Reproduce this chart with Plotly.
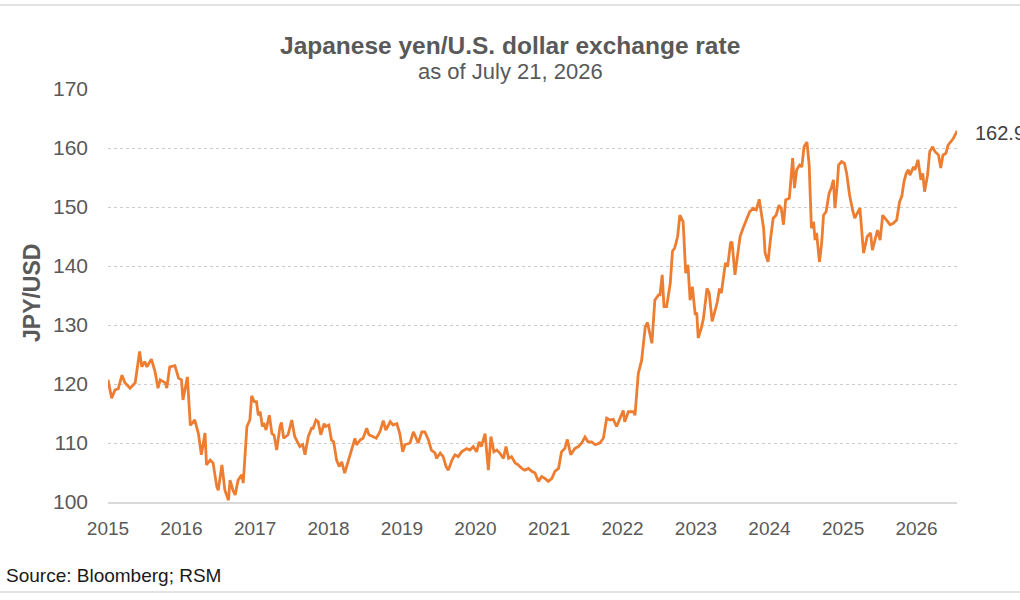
import pandas as pd
import plotly.graph_objects as go

years = [
    2015.00, 2015.05, 2015.095, 2015.14, 2015.19, 2015.23, 2015.30, 2015.37, 2015.43, 2015.46,
    2015.50, 2015.53, 2015.59, 2015.64, 2015.68, 2015.71, 2015.78, 2015.80, 2015.84, 2015.91,
    2015.96, 2016.00, 2016.02, 2016.08, 2016.12, 2016.18, 2016.23, 2016.27, 2016.32, 2016.34,
    2016.39, 2016.43, 2016.48, 2016.50, 2016.55, 2016.59, 2016.64, 2016.66, 2016.70, 2016.73,
    2016.77, 2016.82, 2016.84, 2016.89, 2016.93, 2016.955, 2016.99, 2017.02, 2017.045, 2017.07,
    2017.10, 2017.12, 2017.15, 2017.195, 2017.23, 2017.26, 2017.295, 2017.34, 2017.36, 2017.39,
    2017.45, 2017.50, 2017.54, 2017.61, 2017.65, 2017.68, 2017.725, 2017.77, 2017.79, 2017.83,
    2017.86, 2017.895, 2017.94, 2017.96, 2018.005, 2018.04, 2018.07, 2018.11, 2018.145, 2018.18,
    2018.22, 2018.27, 2018.315, 2018.36, 2018.38, 2018.43, 2018.47, 2018.52, 2018.55, 2018.61,
    2018.65, 2018.70, 2018.745, 2018.78, 2018.84, 2018.88, 2018.93, 2018.97, 2019.01, 2019.04,
    2019.11, 2019.155, 2019.20, 2019.22, 2019.27, 2019.31, 2019.36, 2019.40, 2019.45, 2019.47,
    2019.52, 2019.56, 2019.60, 2019.63, 2019.68, 2019.72, 2019.765, 2019.81, 2019.88, 2019.925,
    2019.97, 2020.015, 2020.05, 2020.08, 2020.13, 2020.175, 2020.21, 2020.25, 2020.29, 2020.33,
    2020.38, 2020.415, 2020.45, 2020.49, 2020.54, 2020.58, 2020.63, 2020.67, 2020.72, 2020.765,
    2020.81, 2020.855, 2020.90, 2020.945, 2020.99, 2021.04, 2021.08, 2021.13, 2021.17, 2021.215,
    2021.25, 2021.295, 2021.35, 2021.40, 2021.445, 2021.49, 2021.53, 2021.58, 2021.63, 2021.69,
    2021.74, 2021.785, 2021.83, 2021.875, 2021.92, 2021.97, 2022.01, 2022.03, 2022.08, 2022.15,
    2022.17, 2022.215, 2022.26, 2022.31, 2022.34, 2022.40, 2022.44, 2022.49, 2022.51, 2022.54,
    2022.565, 2022.60, 2022.65, 2022.68, 2022.71, 2022.75, 2022.78, 2022.825, 2022.86, 2022.89,
    2022.92, 2022.95, 2022.99, 2023.01, 2023.03, 2023.07, 2023.10, 2023.15, 2023.18, 2023.22,
    2023.26, 2023.29, 2023.32, 2023.345, 2023.40, 2023.43, 2023.47, 2023.49, 2023.53, 2023.56,
    2023.60, 2023.64, 2023.69, 2023.73, 2023.78, 2023.82, 2023.86, 2023.89, 2023.92, 2023.94,
    2023.98, 2024.015, 2024.05, 2024.09, 2024.13, 2024.16, 2024.19, 2024.22, 2024.27, 2024.315,
    2024.34, 2024.37, 2024.41, 2024.44, 2024.47, 2024.51, 2024.54, 2024.57, 2024.60, 2024.62,
    2024.64, 2024.68, 2024.71, 2024.735, 2024.77, 2024.81, 2024.84, 2024.87, 2024.89, 2024.92,
    2024.94, 2024.98, 2025.02, 2025.05, 2025.09, 2025.13, 2025.16, 2025.23, 2025.28, 2025.33,
    2025.375, 2025.40, 2025.44, 2025.47, 2025.505, 2025.54, 2025.59, 2025.64, 2025.68, 2025.73,
    2025.77, 2025.80, 2025.83, 2025.86, 2025.89, 2025.91, 2025.96, 2025.98, 2026.02, 2026.06,
    2026.085, 2026.11, 2026.15, 2026.18, 2026.22, 2026.25, 2026.30, 2026.33, 2026.36, 2026.40,
    2026.43, 2026.47, 2026.50, 2026.553,
]

jpy_usd = [
    120.7, 117.6, 119.0, 119.2, 121.5, 120.2, 119.3, 120.2, 125.5, 122.9,
    123.8, 122.9, 124.2, 122.1, 119.3, 120.7, 120.2, 119.3, 122.9, 123.1,
    121.0, 120.7, 117.3, 121.2, 113.0, 113.9, 111.6, 108.0, 111.7, 106.3,
    107.1, 106.6, 102.6, 102.0, 106.3, 102.0, 100.3, 103.7, 102.0, 101.2,
    103.7, 104.6, 103.2, 112.8, 113.9, 118.0, 117.0, 117.0, 114.7, 115.3,
    112.8, 113.4, 112.2, 114.7, 111.6, 111.3, 108.8, 112.8, 113.5, 110.8,
    111.4, 113.9, 111.1, 109.4, 109.7, 108.0, 111.1, 112.5, 112.5, 113.9,
    113.6, 111.4, 113.3, 112.8, 113.05, 110.5, 110.2, 107.1, 106.0, 106.8,
    104.9, 107.1, 108.8, 110.8, 109.7, 110.5, 110.8, 112.5, 111.4, 111.1,
    110.8, 111.9, 113.8, 112.2, 113.6, 113.05, 113.3, 111.6, 108.5, 109.7,
    110.0, 111.9, 110.5, 110.0, 111.9, 111.9, 110.5, 108.8, 108.3, 107.4,
    108.3, 107.7, 106.0, 105.4, 107.1, 108.0, 107.7, 108.5, 109.05, 108.8,
    109.4, 108.5, 110.2, 109.4, 111.6, 105.4, 111.1, 108.5, 108.8, 108.3,
    107.4, 109.4, 107.4, 107.7, 106.6, 106.3, 105.7, 105.4, 105.7, 105.2,
    104.9, 103.5, 104.3, 104.0, 103.5, 104.0, 105.2, 105.7, 108.5, 109.05,
    110.6, 108.0, 109.05, 109.4, 110.0, 111.0, 110.2, 110.2, 109.7, 110.0,
    110.8, 114.2, 113.9, 114.0, 112.8, 114.2, 115.5, 113.6, 115.3, 115.3,
    114.7, 121.8, 124.0, 129.7, 130.4, 126.9, 134.2, 135.1, 135.1, 138.5,
    133.1, 133.1, 137.1, 142.5, 143.05, 145.0, 148.6, 147.5, 138.8, 140.2,
    134.2, 136.5, 131.7, 132.1, 127.8, 129.4, 131.0, 136.2, 135.4, 130.6,
    132.5, 133.9, 136.2, 135.4, 140.5, 139.9, 143.9, 144.1, 138.5, 141.6,
    145.0, 146.4, 147.8, 149.2, 149.8, 149.5, 151.3, 148.9, 146.4, 142.2,
    140.7, 144.7, 148.1, 148.6, 150.3, 149.8, 147.0, 151.2, 151.5, 158.3,
    153.2, 156.3, 157.1, 156.8, 160.2, 161.0, 157.1, 146.4, 147.5, 144.4,
    145.6, 140.7, 143.9, 148.6, 149.2, 152.3, 153.2, 154.6, 149.8, 153.5,
    157.1, 157.7, 157.4, 155.7, 152.0, 149.5, 148.1, 149.8, 142.2, 145.0,
    145.6, 142.7, 144.7, 146.1, 144.4, 148.6, 147.8, 147.0, 147.2, 147.8,
    150.9, 151.8, 154.3, 155.7, 156.3, 155.4, 156.8, 156.3, 158.0, 154.6,
    155.7, 152.6, 155.4, 159.4, 160.2, 159.4, 158.8, 156.6, 158.8, 159.1,
    160.5, 161.1, 161.6, 162.9,
]

tick_years = [str(y) for y in range(2015, 2027)]
y_ticks = [100, 110, 120, 130, 140, 150, 160, 170]

title_text = "Japanese yen/U.S. dollar exchange rate"
subtitle_text = "as of July 21, 2026"
y_title = "JPY/USD"
source_text = "Source: Bloomberg; RSM"
last_label = "162.9"

base = pd.Timestamp("2015-01-01")
dates = [base + pd.to_timedelta((y - 2015) * 365.25, unit="D") for y in years]

W, H = 1020, 600
L, R, T, B = 108, 63, 89, 98
pw, ph = W - L - R, H - T - B

def px(x):
    return (x - L) / pw

def py(y):
    return (H - B - y) / ph

GRAY = "#595959"
FONT = "Liberation Sans, Arial, sans-serif"

fig = go.Figure()
fig.add_trace(go.Scatter(
    x=dates, y=jpy_usd, mode="lines",
    line=dict(color="#ED7D31", width=2.8),
    showlegend=False, hoverinfo="x+y",
))

fig.update_layout(
    width=W, height=H,
    margin=dict(l=L, r=R, t=T, b=B),
    paper_bgcolor="white", plot_bgcolor="white",
    font=dict(family=FONT, color=GRAY, size=20),
    xaxis=dict(
        range=[pd.Timestamp("2015-01-01"), pd.Timestamp("2026-07-21")],
        tickvals=[pd.Timestamp(f"{y}-01-01") for y in tick_years],
        ticktext=tick_years,
        showgrid=False, zeroline=False,
        showline=True, linecolor="#d9d9d9", linewidth=2,
        ticks="", ticklabelstandoff=8,
        tickfont=dict(size=19, color=GRAY),
    ),
    yaxis=dict(
        range=[100, 170], tickvals=y_ticks,
        showgrid=True, gridcolor="#cccccc", griddash="dot", gridwidth=1,
        zeroline=False, showline=False, ticks="", ticklabelstandoff=19,
        tickfont=dict(size=21, color=GRAY),
    ),
    annotations=[
        dict(text=f"<b>{title_text}</b>", xref="paper", yref="paper",
             x=px(510), y=py(45), xanchor="center", yanchor="middle",
             showarrow=False, font=dict(size=24.5, color=GRAY)),
        dict(text=subtitle_text, xref="paper", yref="paper",
             x=px(510), y=py(71), xanchor="center", yanchor="middle",
             showarrow=False, font=dict(size=22, color=GRAY)),
        dict(text=f"<b>{y_title}</b>", xref="paper", yref="paper",
             x=px(32), y=py(293), xanchor="center", yanchor="middle",
             textangle=-90, showarrow=False, font=dict(size=23, color=GRAY)),
        dict(text=source_text, xref="paper", yref="paper",
             x=px(4), y=py(575), xanchor="left", yanchor="middle",
             showarrow=False, font=dict(size=19, color="#1a1a1a")),
        dict(text=last_label, xref="paper", yref="y",
             x=px(973), y=jpy_usd[-1] - 0.3, xanchor="left", yanchor="middle",
             showarrow=False, font=dict(size=20, color="#404040")),
    ],
    shapes=[
        dict(type="line", xref="paper", yref="paper",
             x0=px(0), x1=px(W), y0=py(5), y1=py(5),
             line=dict(color="#e3e3e3", width=2)),
        dict(type="line", xref="paper", yref="paper",
             x0=px(0), x1=px(W), y0=py(592), y1=py(592),
             line=dict(color="#e3e3e3", width=2)),
    ],
)

fig.write_html("out.html")
